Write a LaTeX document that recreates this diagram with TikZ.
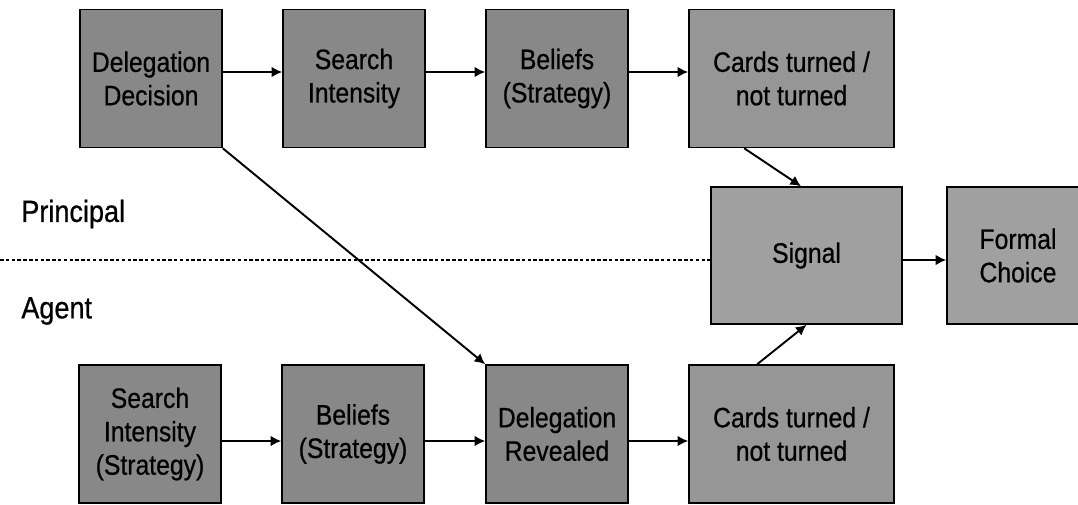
\documentclass[tikz,border=0pt]{standalone}
\usepackage{fontspec}
\setmainfont{Liberation Sans}[FakeStretch=0.88, FakeBold=0.6]
\usetikzlibrary{arrows.meta}
\definecolor{boxgray}{RGB}{136,136,136}
\definecolor{cardgray}{RGB}{150,150,150}
\definecolor{siggray}{RGB}{160,160,160}

\begin{document}
\begin{tikzpicture}[x=0.02cm, y=-0.02cm,
	box/.style={draw, line width=0.9pt, fill=boxgray, inner sep=0pt, align=center,
		minimum width=2.84cm, minimum height=2.76cm,
		font=\fontsize{16}{19}\selectfont},
	flow/.style={line width=1.1pt, -{Latex[length=6pt,width=6pt]}},
	lbl/.style={anchor=west, inner sep=0pt, font=\fontsize{17.5}{20}\selectfont}]
	
	\clip (0,0) rectangle (1078,504);
	
	\node[box] (dd) at (151,78.5) {Delegation\\Decision};
	\node[box] (si) at (354,78.5) {Search\\Intensity};
	\node[box] (bt) at (557,78.5) {Beliefs\\(Strategy)};
	\node[box, fill=cardgray, minimum width=4.1cm] (ct) at (791.5,78.5) {Cards turned /\\not turned};
	
	\node[box] (sb) at (150,434) {Search\\Intensity\\(Strategy)};
	\node[box] (bb) at (353,434) {Beliefs\\(Strategy)};
	\node[box] (dr) at (557,434) {Delegation\\Revealed};
	\node[box, fill=cardgray, minimum width=4.1cm] (cb) at (791.5,434) {Cards turned /\\not turned};
	
	\node[box, fill=siggray, minimum width=3.82cm, minimum height=2.74cm] (sig) at (806.5,255.5) {Signal};
	\node[box, fill=siggray, minimum height=2.74cm] (fc) at (1018,255.5) {Formal\\Choice};
	
	\node[lbl] (pr) at (21,214) {Principal};
	\node[lbl] (ag) at (21,311) {Agent};
	
	\coordinate (dl) at (0,260);
	\coordinate (tr) at (0,72);
	\coordinate (br) at (0,441);
	\draw[line width=0.8pt, dash pattern=on 2pt off 1.3pt] (dl) -- (dl -| sig.west);
	
	\draw[flow] (tr -| dd.east) -- (tr -| si.west);
	\draw[flow] (tr -| si.east) -- (tr -| bt.west);
	\draw[flow] (tr -| bt.east) -- (tr -| ct.west);
	\draw[flow] (br -| sb.east) -- (br -| bb.west);
	\draw[flow] (br -| bb.east) -- (br -| dr.west);
	\draw[flow] (br -| dr.east) -- (br -| cb.west);
	\draw[flow] (dl -| sig.east) -- (dl -| fc.west);
	
	\draw[flow] (dd.south east) -- (dr.north west);
	\draw[flow] ([xshift=1.12cm]ct.south west) -- ([xshift=-0.11cm]sig.north);
	\draw[flow] ([xshift=1.38cm]cb.north west) -- (sig.south);
	
\end{tikzpicture}
\end{document}
